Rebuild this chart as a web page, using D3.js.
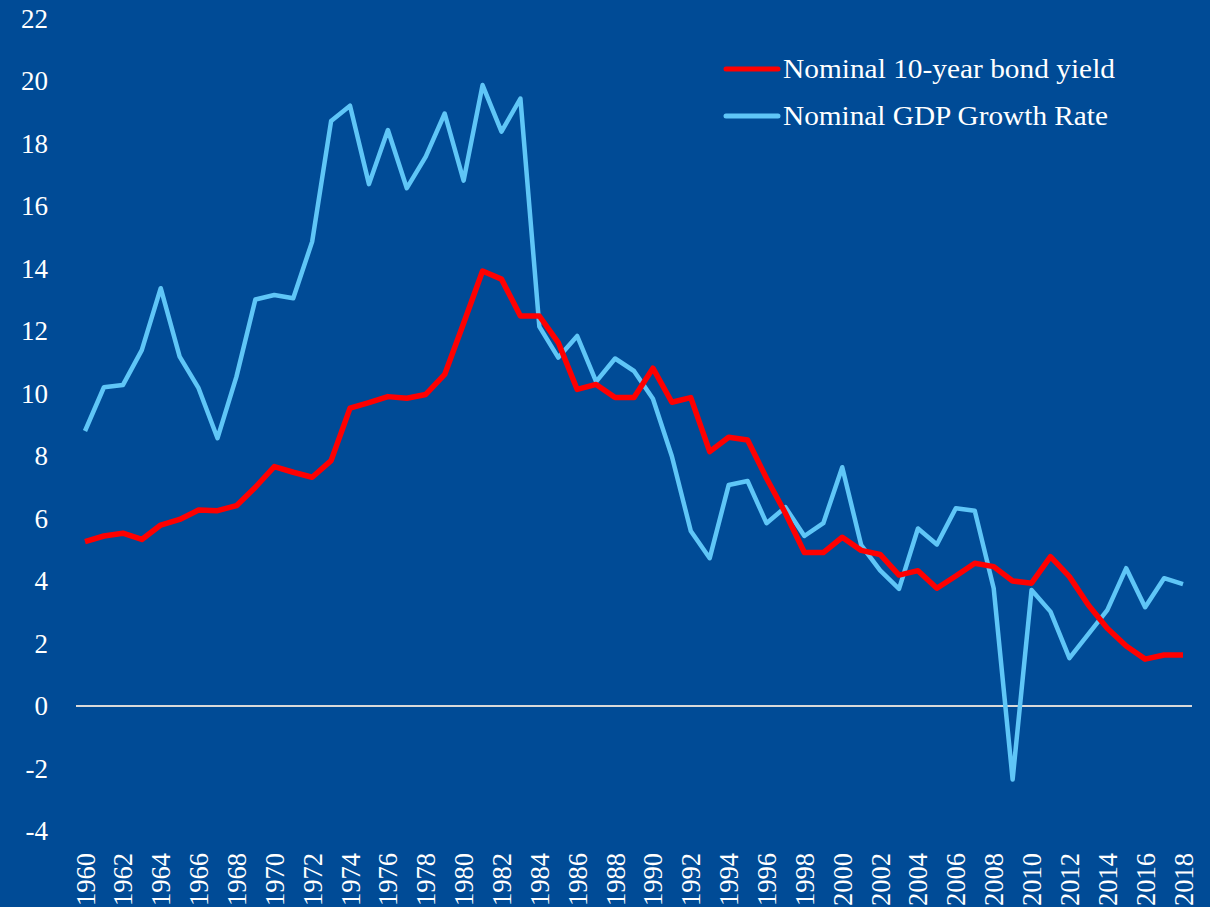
<!DOCTYPE html>
<html><head><meta charset="utf-8">
<script src="https://cdn.jsdelivr.net/npm/d3@7"></script>
<style>html,body{margin:0;padding:0;background:#004b96;overflow:hidden}svg{display:block}
text{font-family:"Liberation Serif","Times New Roman",Tinos,"DejaVu Serif",serif}</style>
</head><body><svg id="c" width="1210" height="907"></svg>
<script>
const years = d3.range(1960, 2019);
const bondYield = [5.26,5.44,5.53,5.33,5.79,5.97,6.27,6.25,6.41,7.0,7.66,7.48,7.32,7.85,9.53,9.71,9.9,9.85,9.97,10.61,
12.25,13.92,13.66,12.48,12.48,11.63,10.13,10.29,9.87,9.87,10.81,9.72,9.87,8.14,8.6,8.51,7.29,6.17,4.91,4.91,
5.4,4.98,4.85,4.19,4.33,3.77,4.16,4.57,4.46,4.0,3.93,4.78,4.14,3.23,2.49,1.92,1.5,1.63,1.63];
const gdpGrowth = [8.8,10.2,10.27,11.39,13.37,11.18,10.17,8.57,10.54,13.01,13.15,13.05,14.86,18.72,19.21,16.7,18.43,16.57,17.58,18.96,
16.81,19.87,18.38,19.44,12.14,11.15,11.84,10.38,11.12,10.72,9.83,7.99,5.6,4.73,7.07,7.2,5.85,6.36,5.44,5.85,
7.64,5.15,4.34,3.75,5.68,5.17,6.33,6.25,3.77,-2.35,3.71,3.02,1.53,2.3,3.07,4.41,3.16,4.09,3.9];
const yTicks = d3.range(-4, 23, 2);
const xTicks = d3.range(1960, 2019, 2);
const seriesNames = ["Nominal 10-year bond yield", "Nominal GDP Growth Rate"];
const seriesColors = ["#ff0000", "#5fc6f7"];

const svg = d3.select("#c");
const font = '"Liberation Serif","Times New Roman",Tinos,"DejaVu Serif",serif';
svg.append("rect").attr("width",1210).attr("height",907).attr("fill","#004b96");

const x = d3.scaleLinear().domain([1960, 2018]).range([85, 1183]);
const y = d3.scaleLinear().domain([-4, 22]).range([831, 18.5]);

// zero line
svg.append("line").attr("x1",76).attr("x2",1192).attr("y1",y(0)).attr("y2",y(0))
  .attr("stroke","#d9d9d9").attr("stroke-width",2);

// y axis labels
const yAxis = d3.axisLeft(y).tickValues(yTicks).tickSize(0).tickPadding(0).tickFormat(d=>String(d));
const yg = svg.append("g").attr("transform","translate(48,0)").call(yAxis).attr("font-family",null);
yg.select(".domain").remove();
yg.selectAll("text").attr("fill","#ffffff").style("font-family",font).attr("font-size",27).attr("dy","0.32em");

// x axis labels
const xAxis = d3.axisBottom(x).tickValues(xTicks).tickSize(0).tickFormat(d=>String(d));
const xg = svg.append("g").attr("transform","translate(0,853)").call(xAxis).attr("font-family",null);
xg.select(".domain").remove();
xg.selectAll("text").attr("fill","#ffffff").style("font-family",font).attr("font-size",26.5)
  .attr("text-anchor","end").attr("transform","rotate(-90)").attr("x",0).attr("y",0).attr("dy","0.34em");

const line = d3.line().x((d,i)=>x(years[i])).y(d=>y(d));
svg.append("path").datum(gdpGrowth).attr("d",line).attr("fill","none")
  .attr("stroke",seriesColors[1]).attr("stroke-width",4.5).attr("stroke-linejoin","round");
svg.append("path").datum(bondYield).attr("d",line).attr("fill","none")
  .attr("stroke",seriesColors[0]).attr("stroke-width",5.5).attr("stroke-linejoin","round");

// legend
const legendWidths = [332, 325];
const lg = svg.append("g");
seriesNames.forEach((n,i)=>{
  const yy = 69 + i*47;
  lg.append("line").attr("x1",726).attr("x2",778).attr("y1",yy).attr("y2",yy)
    .attr("stroke",seriesColors[i]).attr("stroke-width",5).attr("stroke-linecap","round");
  lg.append("text").attr("x",783).attr("y",yy).attr("dy","0.33em").text(n)
    .attr("textLength",legendWidths[i]).attr("lengthAdjust","spacingAndGlyphs")
    .attr("fill","#ffffff").style("font-family",font).attr("font-size",28);
});
</script></body></html>
